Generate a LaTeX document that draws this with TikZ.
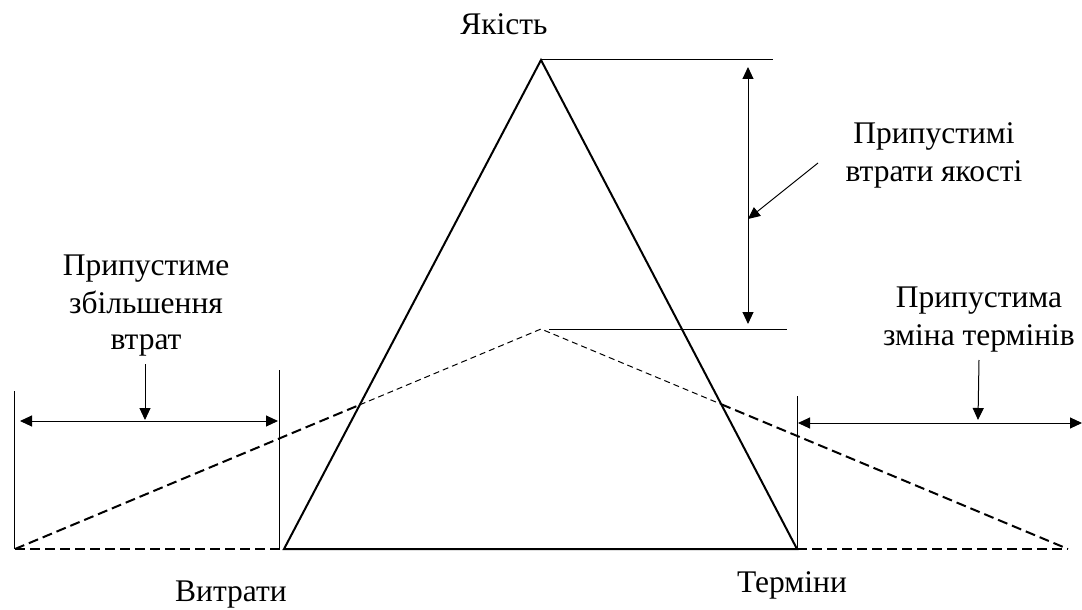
\documentclass[tikz,border=0pt]{standalone}
\usepackage{fontspec}
\setmainfont{Liberation Serif}
\usetikzlibrary{arrows.meta}
\begin{document}
\begin{tikzpicture}[x=1pt,y=-1pt,
  lbl/.style={font=\fontsize{31.5}{37.5}\selectfont,inner sep=0pt,anchor=base},
  thick line/.style={line width=2pt},
  thin line/.style={line width=1pt},
  bigdash/.style={line width=2pt,dash pattern=on 10pt off 5pt},
  smalldash/.style={line width=1pt,dash pattern=on 6pt off 4pt},
  dimarrow/.style={line width=1pt,{Triangle[length=12pt,width=11pt]}-{Triangle[length=12pt,width=11pt]}},
  pointer/.style={line width=1pt,-{Triangle[length=12pt,width=11pt]}}]
\useasboundingbox (0,0) rectangle (1082,610);
% key points
\coordinate (A) at (541,60);
\coordinate (BL) at (284,549);
\coordinate (BR) at (797,549);
\coordinate (DL) at (15,549);
\coordinate (DR) at (1068,549);
\coordinate (DA) at (541,329);
\coordinate (IL) at (intersection of BL--A and DL--DA);
\coordinate (IR) at (intersection of BR--A and DR--DA);
% dashed cost/time lines
\draw[bigdash] (DL) -- (IL);
\draw[smalldash] (IL) -- (DA) -- (IR);
\draw[bigdash] (IR) -- (DR);
\draw[bigdash] (DL) -- (BL);
\draw[bigdash] (BR) -- (DR);
% triangle
\draw[thick line,line join=miter] (BL) -- (A) -- (BR) -- cycle;
% horizontal reference lines
\coordinate (T1) at (773,60);
\coordinate (L0) at (549,329);
\coordinate (L1) at (787,329);
\draw[thin line] (A) -- (T1);
\draw[thin line] (L0) -- (L1);
% quality loss arrow
\coordinate (QA) at (748,67);
\coordinate (QB) at (748,324);
\coordinate (QM) at (748,219);
\draw[dimarrow] (QA) -- (QB);
\node[lbl] (q1) at (934,143) {Припустимі};
\node[lbl] (q2) at (934,181) {втрати якості};
\coordinate (QP) at (818,163);
\draw[pointer] (QP) -- (QM);
% left bracket
\coordinate (V1a) at (14,391);
\coordinate (V1b) at (14,549);
\coordinate (V2a) at (279,370);
\coordinate (V2b) at (279,549);
\draw[thin line] (V1a) -- (V1b);
\draw[thin line] (V2a) -- (V2b);
\coordinate (LA) at (20,421);
\coordinate (LB) at (278,421);
\draw[dimarrow] (LA) -- (LB);
\node[lbl] (c1) at (146,275) {Припустиме};
\node[lbl] (c2) at (146,313) {збільшення};
\node[lbl] (c3) at (146,349) {втрат};
\coordinate (LP0) at (145,364);
\coordinate (LP1) at (145,420);
\draw[pointer] (LP0) -- (LP1);
% right bracket
\coordinate (V3a) at (797,396);
\draw[thin line] (V3a) -- (BR);
\coordinate (RA) at (798,423);
\coordinate (RB) at (1082,423);
\draw[dimarrow] (RA) -- (RB);
\node[lbl] (t1) at (979,307) {Припустима};
\node[lbl] (t2) at (979,345) {зміна термінів};
\coordinate (RP0) at (979,360);
\coordinate (RP1) at (978,420);
\draw[pointer] (RP0) -- (RP1);
% axis labels
\node[lbl] (y) at (504,35) {Якість};
\node[lbl] (w) at (231,601) {Витрати};
\node[lbl] (m) at (792,592) {Терміни};
\end{tikzpicture}
\end{document}
